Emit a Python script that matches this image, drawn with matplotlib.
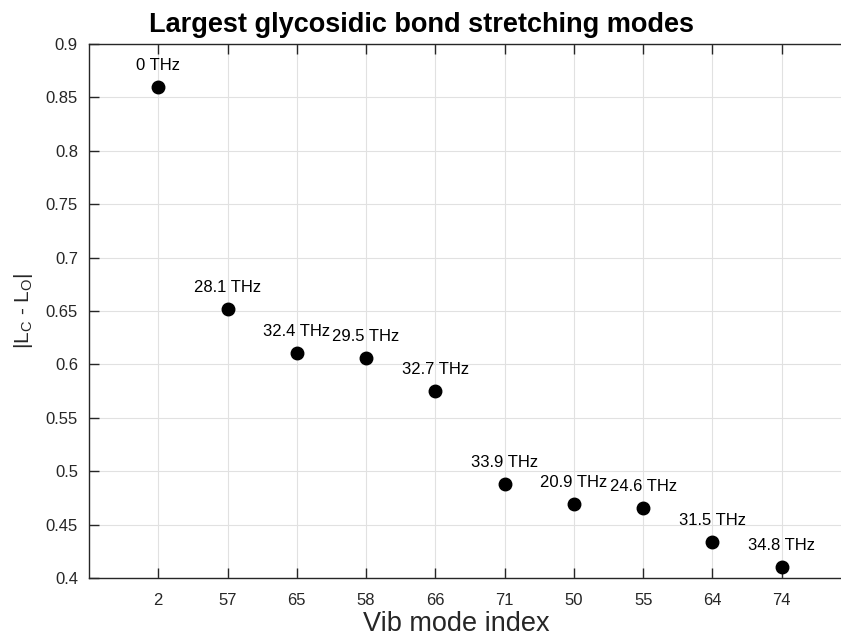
import matplotlib
matplotlib.use("Agg")
import matplotlib.pyplot as plt
import numpy as np

plt.rcParams['font.family'] = ['Liberation Sans', 'DejaVu Sans']

mode_labels = ['2', '57', '65', '58', '66', '71', '50', '55', '64', '74']
values = [0.860, 0.652, 0.611, 0.606, 0.575, 0.488, 0.469, 0.466, 0.434, 0.410]
freq_labels = ['0 THz', '28.1 THz', '32.4 THz', '29.5 THz', '32.7 THz',
               '33.9 THz', '20.9 THz', '24.6 THz', '31.5 THz', '34.8 THz']
yticks = [0.4, 0.45, 0.5, 0.55, 0.6, 0.65, 0.7, 0.75, 0.8, 0.85, 0.9]

fig = plt.figure(figsize=(8.41, 6.37), dpi=100)
ax = fig.add_axes([89/841, (637-578)/637, (851-89)/841, (578-44)/637])

x = np.arange(1, len(values) + 1)
ax.plot(x, values, 'o', color='black', markersize=9, zorder=3, clip_on=False)
for xi, yi, lab in zip(x, values, freq_labels):
    ax.text(xi, yi + 0.02, lab, ha='center', va='center', fontsize=12, color='black')

ax.set_xlim(0, 11)
ax.set_ylim(0.4, 0.9)
ax.set_xticks(x)
ax.set_xticklabels(mode_labels)
ax.set_yticks(yticks)
ax.set_yticklabels(['0.4', '0.45', '0.5', '0.55', '0.6', '0.65', '0.7', '0.75', '0.8', '0.85', '0.9'])
ax.grid(True, color='#e1e1e1', linewidth=0.8)
ax.set_axisbelow(True)
ax.tick_params(direction='in', length=7, width=1, colors='#262626', labelsize=12,
               top=True, right=False)
ax.tick_params(axis='x', pad=11)
ax.tick_params(axis='y', pad=8)
for s in ['left', 'bottom', 'top']:
    ax.spines[s].set_color('#262626')
    ax.spines[s].set_linewidth(1)
ax.spines['right'].set_visible(False)

ax.set_xlabel('Vib mode index', fontsize=19.5, color='#262626')
ax.xaxis.set_label_coords((456.5 - 89) / 762, -(611 - 578) / 534)
ax.set_ylabel(r'|L$_\mathregular{C}$ - L$_\mathregular{O}$|', fontsize=15, color='#262626', labelpad=8)
fig.text(422/841, 1 - 25/637, 'Largest glycosidic bond stretching modes', ha='center', va='center',
         fontsize=19.5, fontweight='bold', color='black')

fig.savefig('out.png', dpi=100)
